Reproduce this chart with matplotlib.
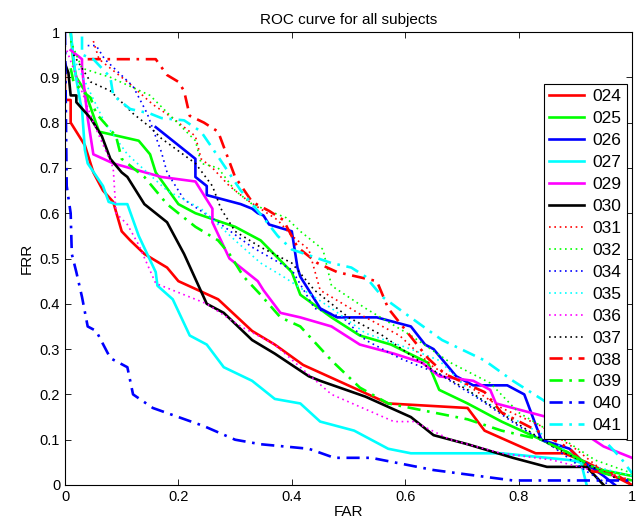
"""ROC curves (FAR vs FRR) for all subjects, MATLAB-style figure."""
import matplotlib
matplotlib.use('Agg')
import matplotlib.pyplot as plt

plt.rcParams['font.family'] = ['Liberation Sans', 'DejaVu Sans']

subjects = ['024', '025', '026', '027', '029', '030', '031', '032',
            '034', '035', '036', '037', '038', '039', '040', '041']

# FAR / FRR points, one pair of lists per subject
far_024 = [0.0, 0.0, 0.01, 0.01, 0.035, 0.05, 0.067, 0.085, 0.1, 0.115, 0.14, 0.18, 0.2, 0.27, 0.33, 0.37, 0.42, 0.57, 0.71, 0.74, 0.83, 0.88, 0.92, 1.0]
frr_024 = [0.93, 0.85, 0.85, 0.80, 0.75, 0.69, 0.65, 0.625, 0.56, 0.54, 0.51, 0.48, 0.45, 0.41, 0.34, 0.31, 0.265, 0.18, 0.17, 0.12, 0.07, 0.07, 0.05, 0.0]

far_025 = [0.01, 0.015, 0.02, 0.035, 0.06, 0.13, 0.15, 0.16, 0.2, 0.23, 0.3, 0.345, 0.4, 0.415, 0.47, 0.52, 0.575, 0.64, 0.66, 0.71, 0.77, 0.84, 0.89, 0.92, 1.0]
frr_025 = [1.0, 0.93, 0.9, 0.87, 0.78, 0.76, 0.73, 0.69, 0.62, 0.60, 0.57, 0.54, 0.47, 0.42, 0.37, 0.33, 0.31, 0.27, 0.21, 0.18, 0.14, 0.10, 0.07, 0.04, 0.02]

far_026 = [0.16, 0.23, 0.23, 0.25, 0.25, 0.31, 0.33, 0.34, 0.35, 0.36, 0.40, 0.41, 0.415, 0.45, 0.48, 0.55, 0.61, 0.635, 0.65, 0.69, 0.72, 0.78, 0.81, 0.84, 0.89, 0.91, 0.95, 0.97]
frr_026 = [0.79, 0.72, 0.68, 0.66, 0.64, 0.62, 0.61, 0.60, 0.595, 0.575, 0.56, 0.48, 0.46, 0.39, 0.37, 0.37, 0.35, 0.31, 0.30, 0.24, 0.22, 0.22, 0.20, 0.10, 0.08, 0.055, 0.02, 0.0]

far_027 = [0.01, 0.018, 0.027, 0.03, 0.035, 0.04, 0.067, 0.077, 0.09, 0.11, 0.13, 0.145, 0.16, 0.163, 0.19, 0.22, 0.25, 0.28, 0.33, 0.37, 0.415, 0.45, 0.51, 0.57, 0.61, 0.77, 0.89, 0.91, 0.92]
frr_027 = [1.0, 0.91, 0.845, 0.83, 0.74, 0.71, 0.66, 0.625, 0.62, 0.62, 0.55, 0.51, 0.47, 0.44, 0.41, 0.33, 0.31, 0.26, 0.23, 0.19, 0.18, 0.14, 0.12, 0.08, 0.07, 0.07, 0.055, 0.05, 0.0]

far_029 = [0.01, 0.03, 0.03, 0.04, 0.05, 0.085, 0.17, 0.23, 0.245, 0.26, 0.26, 0.29, 0.34, 0.35, 0.38, 0.415, 0.47, 0.52, 0.58, 0.63, 0.66, 0.72, 0.75, 0.76, 0.85, 0.92, 0.95, 1.0]
frr_029 = [0.96, 0.94, 0.92, 0.81, 0.73, 0.71, 0.68, 0.67, 0.64, 0.61, 0.58, 0.50, 0.45, 0.43, 0.38, 0.37, 0.35, 0.31, 0.29, 0.27, 0.24, 0.23, 0.21, 0.18, 0.15, 0.11, 0.085, 0.06]

far_030 = [0.0, 0.006, 0.01, 0.02, 0.02, 0.045, 0.065, 0.08, 0.10, 0.11, 0.14, 0.18, 0.21, 0.25, 0.28, 0.33, 0.37, 0.40, 0.43, 0.45, 0.53, 0.61, 0.65, 0.71, 0.79, 0.85, 0.92, 0.95]
frr_030 = [0.93, 0.91, 0.86, 0.86, 0.845, 0.81, 0.77, 0.72, 0.69, 0.68, 0.62, 0.58, 0.51, 0.40, 0.38, 0.32, 0.29, 0.265, 0.24, 0.23, 0.195, 0.15, 0.11, 0.09, 0.06, 0.04, 0.04, 0.0]

far_031 = [0.05, 0.06, 0.11, 0.155, 0.19, 0.23, 0.24, 0.26, 0.29, 0.32, 0.375, 0.40, 0.43, 0.45, 0.49, 0.53, 0.59, 0.65, 0.71, 0.77, 0.84, 0.90, 0.95, 1.0]
frr_031 = [0.98, 0.94, 0.89, 0.84, 0.81, 0.77, 0.72, 0.70, 0.66, 0.63, 0.585, 0.55, 0.52, 0.43, 0.40, 0.37, 0.33, 0.26, 0.22, 0.17, 0.13, 0.08, 0.03, 0.01]

far_032 = [0.01, 0.03, 0.08, 0.15, 0.23, 0.24, 0.27, 0.30, 0.33, 0.39, 0.415, 0.455, 0.47, 0.53, 0.61, 0.68, 0.75, 0.80, 0.88, 0.935, 1.0]
frr_032 = [0.98, 0.92, 0.90, 0.86, 0.76, 0.71, 0.70, 0.65, 0.62, 0.59, 0.56, 0.52, 0.44, 0.39, 0.33, 0.27, 0.225, 0.16, 0.10, 0.055, 0.026]

far_034 = [0.04, 0.055, 0.07, 0.12, 0.145, 0.17, 0.18, 0.21, 0.27, 0.33, 0.40, 0.44, 0.49, 0.53, 0.59, 0.66, 0.73, 0.80, 0.86, 0.92, 0.96]
frr_034 = [0.97, 0.97, 0.94, 0.88, 0.82, 0.735, 0.69, 0.63, 0.58, 0.525, 0.475, 0.39, 0.37, 0.32, 0.28, 0.245, 0.19, 0.13, 0.085, 0.03, 0.0]

far_035 = [0.02, 0.07, 0.11, 0.18, 0.24, 0.30, 0.345, 0.385, 0.47, 0.53, 0.61, 0.66, 0.72, 0.80, 0.86, 0.905, 1.0]
frr_035 = [0.93, 0.80, 0.73, 0.65, 0.61, 0.54, 0.49, 0.46, 0.39, 0.335, 0.30, 0.275, 0.20, 0.14, 0.10, 0.05, 0.02]

far_036 = [0.0, 0.05, 0.085, 0.09, 0.11, 0.13, 0.16, 0.19, 0.25, 0.31, 0.37, 0.415, 0.47, 0.58, 0.615, 0.68, 0.77, 0.86, 0.95, 1.0]
frr_036 = [0.97, 0.80, 0.70, 0.60, 0.575, 0.53, 0.445, 0.43, 0.40, 0.35, 0.31, 0.26, 0.20, 0.14, 0.14, 0.10, 0.07, 0.055, 0.026, 0.01]

far_037 = [0.015, 0.045, 0.08, 0.12, 0.15, 0.17, 0.23, 0.26, 0.275, 0.30, 0.345, 0.40, 0.44, 0.50, 0.56, 0.64, 0.71, 0.78, 0.86, 0.93, 0.98]
frr_037 = [0.95, 0.89, 0.87, 0.82, 0.79, 0.765, 0.71, 0.66, 0.61, 0.56, 0.525, 0.49, 0.43, 0.37, 0.33, 0.26, 0.21, 0.15, 0.085, 0.04, 0.01]

far_038 = [0.04, 0.16, 0.18, 0.20, 0.21, 0.22, 0.245, 0.27, 0.30, 0.33, 0.36, 0.385, 0.41, 0.445, 0.48, 0.55, 0.57, 0.605, 0.64, 0.67, 0.74, 0.77, 0.84, 0.89, 0.93, 0.97, 1.0]
frr_038 = [0.94, 0.94, 0.905, 0.89, 0.87, 0.815, 0.80, 0.78, 0.68, 0.625, 0.605, 0.585, 0.525, 0.49, 0.47, 0.45, 0.39, 0.335, 0.28, 0.245, 0.205, 0.16, 0.115, 0.08, 0.03, 0.025, 0.0]

far_039 = [0.01, 0.015, 0.03, 0.045, 0.055, 0.09, 0.10, 0.115, 0.14, 0.18, 0.23, 0.27, 0.29, 0.315, 0.345, 0.38, 0.415, 0.47, 0.52, 0.57, 0.63, 0.71, 0.77, 0.84, 0.89, 0.95, 1.0]
frr_039 = [0.92, 0.89, 0.87, 0.855, 0.82, 0.77, 0.72, 0.705, 0.68, 0.62, 0.57, 0.54, 0.51, 0.46, 0.42, 0.37, 0.35, 0.275, 0.215, 0.18, 0.165, 0.145, 0.12, 0.10, 0.07, 0.026, 0.01]

far_040 = [0.0, 0.003, 0.01, 0.012, 0.02, 0.03, 0.04, 0.055, 0.08, 0.11, 0.12, 0.155, 0.245, 0.30, 0.345, 0.43, 0.475, 0.54, 0.65, 0.79, 1.0]
frr_040 = [1.0, 0.66, 0.60, 0.51, 0.47, 0.415, 0.35, 0.34, 0.28, 0.26, 0.20, 0.17, 0.13, 0.10, 0.09, 0.08, 0.06, 0.06, 0.033, 0.01, 0.01]

far_041 = [0.03, 0.03, 0.05, 0.08, 0.085, 0.115, 0.15, 0.17, 0.21, 0.24, 0.27, 0.31, 0.35, 0.375, 0.40, 0.47, 0.505, 0.53, 0.56, 0.615, 0.665, 0.74, 0.79, 0.84, 0.95, 0.98, 1.0]
frr_041 = [0.99, 0.95, 0.94, 0.90, 0.86, 0.83, 0.82, 0.81, 0.805, 0.78, 0.725, 0.65, 0.59, 0.55, 0.52, 0.49, 0.48, 0.46, 0.415, 0.365, 0.32, 0.275, 0.23, 0.19, 0.10, 0.06, 0.026]

far = [far_024, far_025, far_026, far_027, far_029, far_030, far_031, far_032,
       far_034, far_035, far_036, far_037, far_038, far_039, far_040, far_041]
frr = [frr_024, frr_025, frr_026, frr_027, frr_029, frr_030, frr_031, frr_032,
       frr_034, frr_035, frr_036, frr_037, frr_038, frr_039, frr_040, frr_041]

colors = ['r', 'lime', 'b', 'cyan', 'magenta', 'k'] * 3
solid = dict(linestyle='-', linewidth=1.9)
dotted = dict(linestyle=(0, (1, 2.2)), linewidth=1.2)
dashdot = dict(linestyle=(0, (5, 2.5, 1, 2.5)), linewidth=1.9)
styles = [solid] * 6 + [dotted] * 6 + [dashdot] * 4

fig = plt.figure(figsize=(6.38, 5.29), dpi=100)
ax = fig.add_axes([65 / 638, 1 - 485 / 529, 567 / 638, 453 / 529])

for name, x, y, col, st in zip(subjects, far, frr, colors, styles):
	ax.plot(x, y, color=col, label=name, **st)

ax.set_xlim(0, 1)
ax.set_ylim(0, 1)
ax.set_xticks([0, 0.2, 0.4, 0.6, 0.8, 1])
ax.set_xticklabels(['0', '0.2', '0.4', '0.6', '0.8', '1'])
ax.set_yticks([i / 10 for i in range(11)])
ax.set_yticklabels(['0'] + [f'0.{i}' for i in range(1, 10)] + ['1'])
ax.tick_params(direction='in', top=True, right=True, labelsize=10.5, length=4, width=0.6)
for s in ax.spines.values():
	s.set_linewidth(0.8)

ax.set_title('ROC curve for all subjects', fontsize=11, pad=6)
ax.set_xlabel('FAR', fontsize=11, labelpad=1)
ax.set_ylabel('FRR', fontsize=11, labelpad=4)

leg = ax.legend(loc='upper right', bbox_to_anchor=(0.991, 0.885), fontsize=12.5,
	frameon=True, fancybox=False, edgecolor='k', framealpha=1,
	handlelength=2.0, labelspacing=0.39, borderpad=0.3, handletextpad=0.5, borderaxespad=0)
leg.get_frame().set_linewidth(0.8)

fig.savefig('out.png', dpi=100)
